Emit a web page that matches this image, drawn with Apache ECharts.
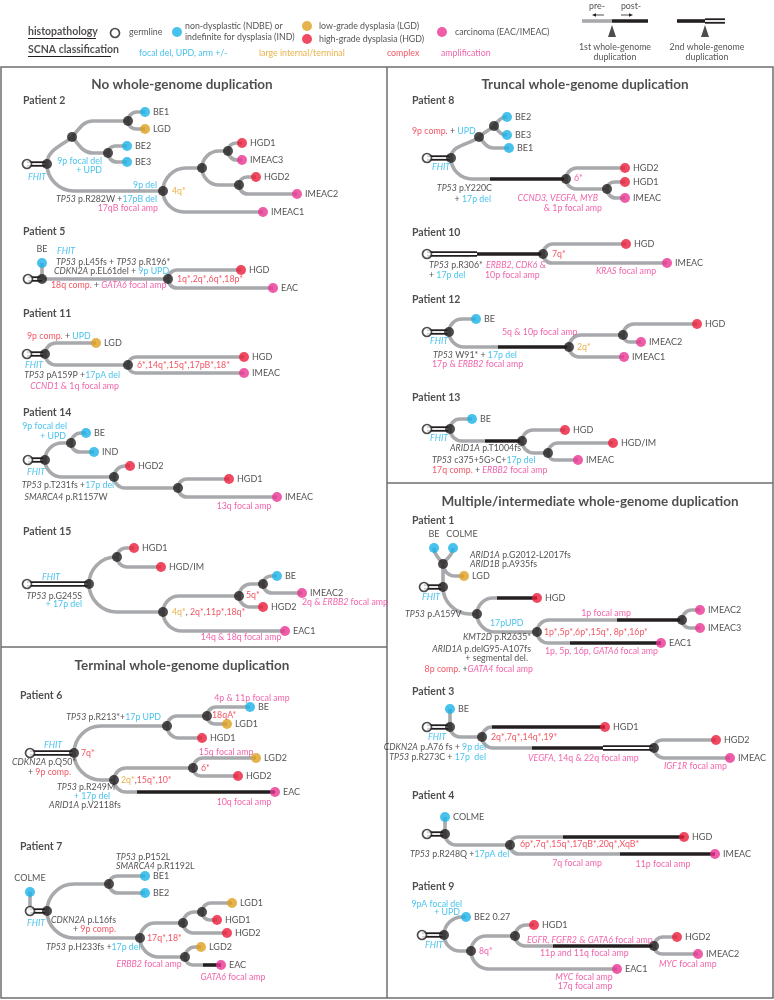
<!DOCTYPE html>
<html><head><meta charset="utf-8">
<script src="https://cdn.jsdelivr.net/npm/echarts@6/dist/echarts.min.js"></script>
<style>html,body{margin:0;padding:0;background:#fff}#c{width:774px;height:1000px}</style>
</head><body><div id="c"></div><script>
// ---------------- DATA ----------------
// node: [id, x, y, type(g germline,k internal,b NDBE/IND,o LGD,r HGD,m carcinoma), labelPos, labelText, labelOffset]
// edge: [from, to, baseStyle(g gray pre-WGD, b black post-WGD, d double), flags, breaks [[x, style]]]
// note: [richText, x, y, align]
const p2Nodes = [['g',27,164,'g'],['n1',47,164,'k'],['n2',72,137,'k'],['n3',128,121,'k'],['BE1',145,112,'b'],['LGD',145,129,'o'],['n4',108,153,'k'],['BE2',127,146,'b'],['BE3',127,162,'b'],['n5',163,191,'k'],['n6',202,168,'k'],['n7',228,151,'k'],['HGD1',242,143,'r'],['IMEAC3',242,160,'m'],['n8',239,185,'k'],['HGD2',256,177,'r'],['IMEAC2',297,194,'m'],['IMEAC1',263,212,'m']];
const p2Edges = [['g','n1','d'],['n1','n2','g','e'],['n2','n3','g','m'],['n3','BE1'],['n3','LGD'],['n2','n4','g','m'],['n4','BE2'],['n4','BE3'],['n1','n5'],['n5','n6'],['n6','n7'],['n7','HGD1'],['n7','IMEAC3'],['n6','n8'],['n8','HGD2'],['n8','IMEAC2'],['n5','IMEAC1']];
const p2Notes = [['{b|9p focal del}',102,161,'r'],['{b|+ UPD}',102,170,'r'],['{bi|FHIT}',28,177,'l'],['{b|9p del}',157,185,'r'],['{ki|TP53} p.R282W +{b|17pB del}',157,199,'r'],['{m|17qB focal amp}',158,208,'r'],['{o|4q*}',172,191,'l']];

const p5Nodes = [['g',28,279,'g'],['n1',42,279,'k'],['BE',42,263,'b','top'],['n2',168,279,'k'],['HGD',241,270,'r'],['EAC',273,288,'m']];
const p5Edges = [['g','n1','d'],['n1','BE'],['n1','n2'],['n2','HGD'],['n2','EAC']];
const p5Notes = [['{bi|FHIT}',57,251,'l'],['{ki|TP53} p.L45fs + {ki|TP53} p.R196*',56,262,'l'],['{ki|CDKN2A} p.EL61del + {b|9p UPD}',54,271,'l'],['{r|18q comp.} + {mi|GATA6} {m|focal amp}',51,285,'l'],['{r|1q*,2q*,6q*,18p*}',177,279,'l']];

const p11Nodes = [['g',27,354,'g'],['n1',45,354,'k'],['LGD',96,343,'o'],['n2',128,365,'k'],['HGD',244,357,'r'],['IMEAC',244,373,'m']];
const p11Edges = [['g','n1','d'],['n1','LGD'],['n1','n2'],['n2','HGD'],['n2','IMEAC']];
const p11Notes = [['{r|9p comp.} + {b|UPD}',27,336,'l'],['{bi|FHIT}',25,365,'l'],['{ki|TP53} pA159P +{b|17pA del}',120,375,'r'],['{mi|CCND1} {m|& 1q focal amp}',119,386,'r'],['{r|6*,14q*,15q*,17pB*,18*}',137,365,'l']];

const p14Nodes = [['g',28,460,'g'],['n1',45,460,'k'],['n2',71,443,'k'],['BE',86,433,'b'],['IND',94,452,'b'],['n3',114,477,'k'],['HGD2',130,466,'r'],['n4',178,488,'k'],['HGD1',229,479,'r'],['IMEAC',277,497,'m']];
const p14Edges = [['g','n1','d'],['n1','n2'],['n2','BE'],['n2','IND'],['n1','n3'],['n3','HGD2'],['n3','n4'],['n4','HGD1'],['n4','IMEAC']];
const p14Notes = [['{b|9p focal del}',67,426,'r'],['{b|+ UPD}',66,436,'r'],['{bi|FHIT}',27,472,'l'],['{ki|TP53} p.T231fs +{b|17p del}',68,485,'c'],['{ki|SMARCA4} p.R1157W',66,497,'c'],['{m|13q focal amp}',244,506,'c']];

const p15Nodes = [['g',27,584,'g'],['n1',89,584,'k'],['n2',117,557,'k'],['HGD1',134,548,'r'],['HGD/IM',161,567,'r'],['n3',163,612,'k'],['n4',239,596,'k'],['n5',263,584,'k'],['BE',277,576,'b'],['IMEAC2',302,593,'m'],['HGD2',263,607,'r'],['EAC1',285,631,'m']];
const p15Edges = [['g','n1','d'],['n1','n2'],['n2','HGD1'],['n2','HGD/IM'],['n1','n3'],['n3','n4'],['n4','n5'],['n5','BE'],['n5','IMEAC2'],['n4','HGD2'],['n3','EAC1']];
const p15Notes = [['{bi|FHIT}',51,577,'c'],['{ki|TP53} p.G245S',82,596,'r'],['{b|+ 17p del}',82,604,'r'],['{r|5q*}',246,595,'l'],['{o|4q*}, {r|2q*,11p*,18q*}',172,612,'l'],['{m|2q &} {mi|ERBB2} {m|focal amp}',302,602,'l'],['{m|14q & 18q focal amp}',241,637,'c']];

const p6Nodes = [['g',30,753,'g'],['n1',74,753,'k'],['n2',167,726,'k'],['n3',207,716,'k'],['BE',250,707,'b'],['LGD1',227,724,'o'],['HGD1',202,738,'r'],['n4',114,780,'k'],['n5',193,768,'k'],['LGD2',256,758,'o'],['HGD2',238,776,'r'],['EAC',275,792,'m']];
const p6Edges = [['g','n1','d'],['n1','n2'],['n2','n3'],['n3','BE'],['n3','LGD1'],['n2','HGD1'],['n1','n4'],['n4','n5'],['n5','LGD2'],['n5','HGD2'],['n4','EAC','g','',[[137,'b']]]];
const p6Notes = [['{bi|FHIT}',53,745,'c'],['{r|7q*}',81,753,'l'],['{ki|CDKN2A} p.Q50*',12,762,'l'],['+ {r|9p comp.}',28,772,'l'],['{ki|TP53} p.R213*+{b|17p UPD}',161,717,'r'],['{r|18qA*}',212,715,'l'],['{m|4p & 11p focal amp}',252,698,'c'],['{o|2q*},{r|15q*,10*}',121,780,'l'],['{ki|TP53} p.R249M',86,787,'c'],['{b|+ 17p del}',92,796,'c'],['{ki|ARID1A} p.V2118fs',85,805,'c'],['{r|6*}',201,768,'l'],['{m|15q focal amp}',226,752,'c'],['{m|10q focal amp}',244,802,'c']];

const p7Nodes = [['g',30,911,'g'],['COLME',30,892,'b','top'],['n1',47,911,'k'],['n2',109,884,'k'],['BE1',145,876,'b'],['BE2',145,893,'b'],['n3',140,938,'k'],['n4',183,923,'k'],['n5',202,912,'k'],['LGD1',232,903,'o'],['HGD1',217,920,'r'],['HGD2',227,933,'r'],['n6',185,957,'k'],['LGD2',201,947,'o'],['EAC',221,965,'m']];
const p7Edges = [['g','COLME'],['g','n1','d'],['n1','n2'],['n2','BE1'],['n2','BE2'],['n1','n3'],['n3','n4'],['n4','n5'],['n5','LGD1'],['n5','HGD1'],['n4','HGD2'],['n3','n6'],['n6','LGD2'],['n6','EAC','g','',[[203,'b']]]];
const p7Notes = [['{bi|FHIT}',27,923,'l'],['{ki|TP53} p.P152L',116,857,'l'],['{ki|SMARCA4} p.R1192L',116,866,'l'],['{ki|CDKN2A} p.L16fs',116,920,'r'],['+ {r|9p comp.}',116,929,'r'],['{ki|TP53} p.H233fs +{b|17p del}',46,947,'l'],['{r|17q*,18*}',147,938,'l'],['{mi|ERBB2} {m|focal amp}',149,964,'c'],['{mi|GATA6} {m|focal amp}',233,977,'c']];

const p8Nodes = [['g',427,158,'g'],['n1',451,158,'k'],['n2',479,137,'k'],['n3',494,126,'k'],['BE2',507,117,'b'],['BE3',507,135,'b'],['BE1',509,148,'b'],['n4',566,179,'k'],['HGD2',625,168,'r'],['n5',607,189,'k'],['HGD1',625,182,'r'],['IMEAC',625,198,'m']];
const p8Edges = [['g','n1','d'],['n1','n2','g','e'],['n2','n3','g','me'],['n3','BE2','g','m'],['n3','BE3','g','m'],['n2','BE1','g','m'],['n1','n4','g','',[[490,'b']]],['n4','HGD2'],['n4','n5'],['n5','HGD1'],['n5','IMEAC']];
const p8Notes = [['{r|9p comp.} + {b|UPD}',412,131,'l'],['{bi|FHIT}',432,167,'l'],['{ki|TP53} p.Y220C',492,188,'r'],['+ {b|17p del}',491,199,'r'],['{m|6*}',574,178,'l'],['{mi|CCND3, VEGFA, MYB}',598,198,'r'],['{m|& 1p focal amp}',602,208,'r']];

const p10Nodes = [['g',427,254,'g'],['n1',543,254,'k'],['HGD',626,244,'r'],['IMEAC',667,263,'m']];
const p10Edges = [['g','n1','d','',[[477,'b']]],['n1','HGD'],['n1','IMEAC']];
const p10Notes = [['{r|7q*}',552,254,'l'],['{ki|TP53} p.R306*',429,265,'l'],['+ {b|17p del}',429,275,'l'],['{mi|ERBB2, CDK6} {m|&}',486,265,'l'],['{m|10p focal amp}',485,275,'l'],['{mi|KRAS} {m|focal amp}',626,271,'c']];

const p12Nodes = [['g',427,332,'g'],['n1',449,332,'k'],['BE',476,319,'b'],['n2',569,347,'k'],['n3',623,335,'k'],['HGD',697,324,'r'],['IMEAC2',641,342,'m'],['IMEAC1',624,357,'m']];
const p12Edges = [['g','n1','d'],['n1','BE'],['n1','n2','g','',[[498,'b']]],['n2','n3'],['n3','HGD'],['n3','IMEAC2'],['n2','IMEAC1']];
const p12Notes = [['{bi|FHIT}',430,341,'l'],['{ki|TP53} W91* + {b|17p del}',433,355,'l'],['{m|17p &} {mi|ERBB2} {m|focal amp}',432,364,'l'],['{m|5q & 10p focal amp}',502,332,'l'],['{o|2q*}',577,347,'l']];

const p13Nodes = [['g',427,429,'g'],['n1',450,429,'k'],['BE',472,419,'b'],['n2',522,441,'k'],['HGD',565,430,'r'],['n3',548,453,'k'],['HGD/IM',613,443,'r'],['IMEAC',578,460,'m']];
const p13Edges = [['g','n1','d'],['n1','BE'],['n1','n2','g','',[[485,'b']]],['n2','HGD'],['n2','n3'],['n3','HGD/IM'],['n3','IMEAC']];
const p13Notes = [['{bi|FHIT}',430,438,'l'],['{ki|ARID1A} p.T1004fs',450,448,'l'],['{ki|TP53} c375+5G>C+{b|17p del}',432,460,'l'],['{r|17q comp.} + {mi|ERBB2} {m|focal amp}',432,470,'l']];

const p1Nodes = [['BE',434,548,'b','top'],['COLME',453,548,'b','top',null,[9,0]],['na',443,564,'k'],['LGD',464,576,'o'],['g',424,587,'g'],['n1',443,587,'k'],['n2',477,614,'k'],['HGD',537,598,'r'],['n3',537,632,'k'],['n4',682,620,'k'],['IMEAC2',700,610,'m'],['IMEAC3',700,628,'m'],['EAC1',661,643,'m']];
const p1Edges = [['g','n1','d'],['n1','na'],['na','BE','g','v'],['na','COLME','g','v'],['na','LGD'],['n1','n2'],['n2','HGD','g','',[[497,'b']]],['n2','n3'],['n3','n4','g','',[[617,'b']]],['n4','IMEAC2'],['n4','IMEAC3'],['n3','EAC1','g','',[[570,'b']]]];
const p1Notes = [['{bi|FHIT}',422,597,'l'],['{ki|ARID1A} p.G2012-L2017fs',470,555,'l'],['{ki|ARID1B} p.A935fs',470,564,'l'],['{ki|TP53} p.A159V',405,614,'l'],['{b|17pUPD}',490,623,'l'],['{m|1p focal amp}',606,613,'c'],['{r|1p*,5p*,6p*,15q*, 8p*,16p*}',544,632,'l'],['{ki|KMT2D} p.R2635*',531,637,'r'],['{ki|ARID1A} p.delG95-A107fs',531,649,'r'],['+ segmental del.',528,658,'r'],['{r|8p comp.} +{mi|GATA4} {m|focal amp}',533,669,'r'],['{m|1p, 5p, 16p,} {mi|GATA6} {m|focal amp}',545,651,'l']];

const p3Nodes = [['BE',450,709,'b'],['g',427,727,'g'],['n1',450,727,'k'],['n2',482,737,'k'],['HGD1',605,727,'r'],['n3',654,748,'k'],['HGD2',716,740,'r'],['IMEAC',730,758,'m']];
const p3Edges = [['g','n1','d'],['n1','BE'],['n1','n2'],['n2','HGD1','g','',[[492,'b']]],['n2','n3','g','',[[532,'b'],[603,'d']]],['n3','HGD2'],['n3','IMEAC']];
const p3Notes = [['{bi|FHIT}',428,737,'l'],['{r|2q*,7q*,14q*,19*}',491,737,'l'],['{ki|CDKN2A} p.A76 fs + {b|9p del}',486,747,'r'],['{ki|TP53} p.R273C + {b|17p  del}',486,757,'r'],['{mi|VEGFA}{m|, 14q & 22q focal amp}',528,758,'l'],['{mi|IGF1R} {m|focal amp}',664,766,'l']];

const p4Nodes = [['COLME',445,817,'b'],['g',427,834,'g'],['n1',445,834,'k'],['n2',510,845,'k'],['HGD',684,837,'r'],['IMEAC',715,854,'m']];
const p4Edges = [['g','n1','d'],['n1','COLME'],['n1','n2'],['n2','HGD','g','',[[563,'b']]],['n2','IMEAC','g','',[[620,'b']]]];
const p4Notes = [['{ki|TP53} p.R248Q +{b|17pA del}',410,854,'l'],['{r|6p*,7q*,15q*,17qB*,20q*,XqB*}',520,844,'l'],['{m|7q focal amp}',577,863,'c'],['{m|11p focal amp}',663,864,'c']];

const p9Nodes = [['BE2',466,917,'b','right','BE2 0.27'],['g',422,935,'g'],['n1',444,935,'k'],['n2',471,951,'k'],['n3',515,936,'k'],['HGD1',534,925,'r'],['n4',654,946,'k'],['HGD2',677,937,'r'],['IMEAC2',698,954,'m'],['EAC1',617,969,'m']];
const p9Edges = [['g','n1','d'],['n1','BE2'],['n1','n2'],['n2','n3'],['n3','HGD1'],['n3','n4','g','',[[553,'b']]],['n4','HGD2'],['n4','IMEAC2'],['n2','EAC1']];
const p9Notes = [['{b|9pA focal del}',462,904,'r'],['{b|+ UPD}',460,912,'r'],['{bi|FHIT}',425,945,'l'],['{m|8q*}',479,951,'l'],['{mi|EGFR, FGFR2} {m|&} {mi|GATA6} {m|focal amp}',527,940,'l'],['{m|11p and 11q focal amp}',540,953,'l'],['{mi|MYC} {m|focal amp}',659,964,'l'],['{mi|MYC} {m|focal amp}',584,977,'c'],['{m|17q focal amp}',585,986,'c']];

const titleNotes = [['{t|No whole-genome duplication}',182,85,'c'],['{t|Truncal whole-genome duplication}',585,85,'c'],['{t|Terminal whole-genome duplication}',182,666,'c'],['{t|Multiple/intermediate whole-genome duplication}',590,502,'c'],
 ['{h|Patient 2}',23,101,'l'],['{h|Patient 5}',23,232,'l'],['{h|Patient 11}',23,314,'l'],['{h|Patient 14}',23,413,'l'],['{h|Patient 15}',23,532,'l'],['{h|Patient 6}',20,696,'l'],['{h|Patient 7}',20,847,'l'],
 ['{h|Patient 8}',412,101,'l'],['{h|Patient 10}',412,233,'l'],['{h|Patient 12}',412,300,'l'],['{h|Patient 13}',412,398,'l'],['{h|Patient 1}',412,521,'l'],['{h|Patient 3}',412,692,'l'],['{h|Patient 4}',412,796,'l'],['{h|Patient 9}',412,887,'l']];

const legendNodes = [['lg',115,33,'g'],['lb',177,32,'b'],['lo',307,26,'o'],['lr',307,39,'r'],['lm',442,32,'m']];
const legendEdges = [[[582,21],[648,21],'g',[[612,'b']]],[[677,21],[725,21],'b',[[705,'d']]]];
const legendTriangles = [[612,31],[705,31]];
const legendNotes = [['{u|histopathology}',28,32,'l'],['{u|SCNA classification}',28,50,'l'],['germline',129,32,'l'],['non-dysplastic (NDBE) or',185,26,'l'],['indefinite for dysplasia (IND)',185,37,'l'],['low-grade dysplasia (LGD)',319,26,'l'],['high-grade dysplasia (HGD)',319,39,'l'],['carcinoma (EAC/IMEAC)',455,32,'l'],
 ['{b|focal del, UPD, arm +/-}',139,53,'l'],['{o|large internal/terminal}',259,53,'l'],['{r|complex}',387,53,'l'],['{m|amplification}',441,53,'l'],
 ['pre-',597,6,'c'],['post-',631,6,'c'],['1st whole-genome',615,47,'c'],['duplication',615,57,'c'],['2nd whole-genome',707,47,'c'],['duplication',707,57,'c']];

const patients = [[p2Nodes,p2Edges,p2Notes],[p5Nodes,p5Edges,p5Notes],[p11Nodes,p11Edges,p11Notes],[p14Nodes,p14Edges,p14Notes],[p15Nodes,p15Edges,p15Notes],[p6Nodes,p6Edges,p6Notes],[p7Nodes,p7Edges,p7Notes],[p8Nodes,p8Edges,p8Notes],[p10Nodes,p10Edges,p10Notes],[p12Nodes,p12Edges,p12Notes],[p13Nodes,p13Edges,p13Notes],[p1Nodes,p1Edges,p1Notes],[p3Nodes,p3Edges,p3Notes],[p4Nodes,p4Edges,p4Notes],[p9Nodes,p9Edges,p9Notes]];

// ---------------- BUILD ----------------
const FONT = "Lato, 'Open Sans', sans-serif";
const FS = 8.8;
const TXT = '#231f20';
const COL = {k:'#231f20', b:'#1ab3e8', o:'#dfa01f', r:'#ec1d3b', m:'#ea3592'};
const GRAY = '#a7a9ac';

const nodeList = [], edgeList = [], noteList = [];
patients.forEach(([nodes, edges, notes]) => {
  const map = {};
  nodes.forEach(n => { map[n[0]] = n; nodeList.push(Object.assign([], n, {leaf: !['g','k'].includes(n[3])})); });
  edges.forEach(e => {
    const a = map[e[0]], c = map[e[1]];
    edgeList.push({px:a[1], py:a[2], cx:c[1], cy:c[2], st:e[2]||'g', flags:e[3]||'', breaks:e[4]||[]});
  });
  notes.forEach(t => noteList.push(t));
});
legendNodes.forEach(n => nodeList.push(Object.assign([], n, {leaf: false})));
legendEdges.forEach(e => edgeList.push({px:e[0][0], py:e[0][1], cx:e[1][0], cy:e[1][1], st:e[2], flags:'', breaks:e[3]}));
titleNotes.forEach(t => noteList.push(t));
legendNotes.forEach(t => noteList.push(t));

function buildPath(api, e, endX) {
  const P = (x, y) => { const p = api.coord([x, y]); return p[0].toFixed(2) + ' ' + p[1].toFixed(2); };
  const {px, py, cx, cy, flags} = e;
  const dx = cx - px, dy = cy - py, s = Math.sign(dy);
  let d = 'M' + P(px, py);
  if (dy === 0 || Math.abs(dx) < 0.5) return d + ' L' + P(dy === 0 ? endX : cx, cy);
  const R2 = Math.SQRT1_2;
  if (flags.includes('v')) {
    const L = 0.4 * Math.hypot(dx, dy);
    return d + ' C' + P(px + Math.sign(dx) * R2 * L * 0.6, py + s * R2 * L) + ' ' + P(cx, cy - s * L) + ' ' + P(cx, cy);
  }
  const mid = flags.includes('m'), endMid = flags.includes('e');
  let sx = px, sy = py, qx, qy;
  if (endMid) { qx = cx; qy = cy; }
  else {
    const r = Math.min(dx, Math.abs(dy) * (mid ? 1.3 : 1));
    qx = px + r; qy = cy;
    if (!mid && Math.abs(dy) > r) { sy = cy - s * r; d += ' L' + P(sx, sy); }
  }
  const ch = Math.hypot(qx - sx, qy - sy);
  let p1, p2;
  if (mid) { const L = 0.35 * ch; p1 = [sx + R2 * L, sy + s * R2 * L]; }
  else { const L = endMid ? 0.4 * ch : 0.55 * Math.abs(qy - sy); p1 = [sx, sy + s * L]; }
  if (endMid) { const L = 0.3 * ch; p2 = [qx - R2 * L, qy - s * R2 * L]; }
  else { const L = mid ? 0.4 * ch : 0.55 * (qx - sx); p2 = [qx - L, qy]; }
  d += ' C' + P(p1[0], p1[1]) + ' ' + P(p2[0], p2[1]) + ' ' + P(qx, qy);
  if (qx < endX) d += ' L' + P(endX, cy);
  return d;
}
function styled(shapeType, shape, st) {
  const base = {type: shapeType, shape: shape, silent: true};
  if (st === 'd') return [
    Object.assign({}, base, {style: {stroke: '#231f20', lineWidth: 5.4, fill: null}}),
    Object.assign({}, base, {style: {stroke: '#ffffff', lineWidth: 1.8, fill: null}})
  ];
  return [Object.assign({}, base, {style: {stroke: st === 'b' ? '#231f20' : GRAY, lineWidth: 3.6, fill: null}})];
}
function renderEdge(params, api) {
  const e = edgeList[params.dataIndex];
  const endX = e.breaks.length ? e.breaks[0][0] : e.cx;
  const children = styled('path', {pathData: buildPath(api, e, endX)}, e.st);
  e.breaks.forEach((b, i) => {
    const x2 = i + 1 < e.breaks.length ? e.breaks[i + 1][0] : e.cx;
    const a = api.coord([b[0], e.cy]), c = api.coord([x2, e.cy]);
    styled('line', {x1: a[0], y1: a[1], x2: c[0], y2: c[1]}, b[1]).forEach(el => children.push(el));
  });
  return {type: 'group', children: children};
}

const rs = (o) => Object.assign({fontFamily: FONT, fontSize: FS, color: TXT}, o);
const rich = {
  b: rs({color: COL.b}), bi: rs({color: COL.b, fontStyle: 'italic'}),
  o: rs({color: '#e39f1c'}), r: rs({color: '#ee2a3c'}),
  m: rs({color: '#ec3c95'}), mi: rs({color: '#ec3c95', fontStyle: 'italic'}),
  ki: rs({fontStyle: 'italic'}),
  h: rs({fontWeight: 'bold', fontSize: 10.5}),
  t: rs({fontWeight: 'bold', fontSize: 13.5}),
  u: rs({fontWeight: 'bold', fontSize: 10.5})
};
const alignMap = {l: 'left', r: 'right', c: 'center'};

const chart = echarts.init(document.getElementById('c'), null, {renderer: 'canvas'});
chart.setOption({
  animation: false,
  backgroundColor: '#fff',
  grid: {left: 0, right: 0, top: 0, bottom: 0},
  xAxis: {type: 'value', min: 0, max: 774, show: false},
  yAxis: {type: 'value', min: 0, max: 1000, inverse: true, show: false},
  series: [
    {type: 'custom', coordinateSystem: 'cartesian2d', z: 1, silent: true, clip: false,
     data: edgeList.map((e, i) => [e.px, e.py, e.cx, e.cy, i]),
     encode: {x: [0, 2], y: [1, 3]},
     renderItem: renderEdge},
    {type: 'scatter', z: 3, silent: true, clip: false,
     data: nodeList.map(n => {
       const t = n[3];
       const lab = {show: n.leaf, position: n[4] || 'right', distance: n[4] === 'top' ? 4 : 3};
       if (n[6]) lab.offset = n[6];
       return {
         value: [n[1], n[2]], name: n[5] || n[0],
         symbolSize: t === 'g' ? 9 : 10,
         itemStyle: t === 'g' ? {color: '#fff', borderColor: '#231f20', borderWidth: 1.7} : {color: COL[t]},
         label: lab
       };
     }),
     label: {formatter: p => p.name, fontSize: 9, fontFamily: FONT, color: TXT}},
    {type: 'scatter', z: 2, silent: true, clip: false, symbol: 'triangle', symbolSize: [8, 12],
     itemStyle: {color: '#231f20'}, data: legendTriangles},
    {type: 'scatter', z: 4, silent: true, clip: false, symbolSize: 0,
     data: noteList.map(n => ({value: [n[1], n[2]], name: n[0], label: {align: alignMap[n[3]]}})),
     label: {show: true, position: 'inside', verticalAlign: 'middle', formatter: p => p.name,
             fontSize: FS, fontFamily: FONT, color: TXT, rich: rich}}
  ],
  graphic: [
    {type: 'rect', shape: {x: 1, y: 67, width: 772, height: 931}, style: {fill: null, stroke: '#6d6e71', lineWidth: 1.5}, silent: true},
    {type: 'line', shape: {x1: 387, y1: 67, x2: 387, y2: 998}, style: {stroke: '#6d6e71', lineWidth: 1.5}, silent: true},
    {type: 'line', shape: {x1: 1, y1: 647, x2: 387, y2: 647}, style: {stroke: '#6d6e71', lineWidth: 1.5}, silent: true},
    {type: 'line', shape: {x1: 387, y1: 483, x2: 773, y2: 483}, style: {stroke: '#6d6e71', lineWidth: 1.5}, silent: true},
    {type: 'line', shape: {x1: 28, y1: 38.5, x2: 96, y2: 38.5}, style: {stroke: '#231f20', lineWidth: 1}, silent: true},
    {type: 'line', shape: {x1: 28, y1: 56.5, x2: 111, y2: 56.5}, style: {stroke: '#231f20', lineWidth: 1}, silent: true},
    {type: 'line', shape: {x1: 595, y1: 15, x2: 604, y2: 15}, style: {stroke: '#231f20', lineWidth: 0.8}, silent: true},
    {type: 'polygon', shape: {points: [[592, 15], [596, 13.2], [596, 16.8]]}, style: {fill: '#231f20'}, silent: true},
    {type: 'line', shape: {x1: 621, y1: 15, x2: 630, y2: 15}, style: {stroke: '#231f20', lineWidth: 0.8}, silent: true},
    {type: 'polygon', shape: {points: [[633, 15], [629, 13.2], [629, 16.8]]}, style: {fill: '#231f20'}, silent: true}
  ]
});
</script></body></html>
